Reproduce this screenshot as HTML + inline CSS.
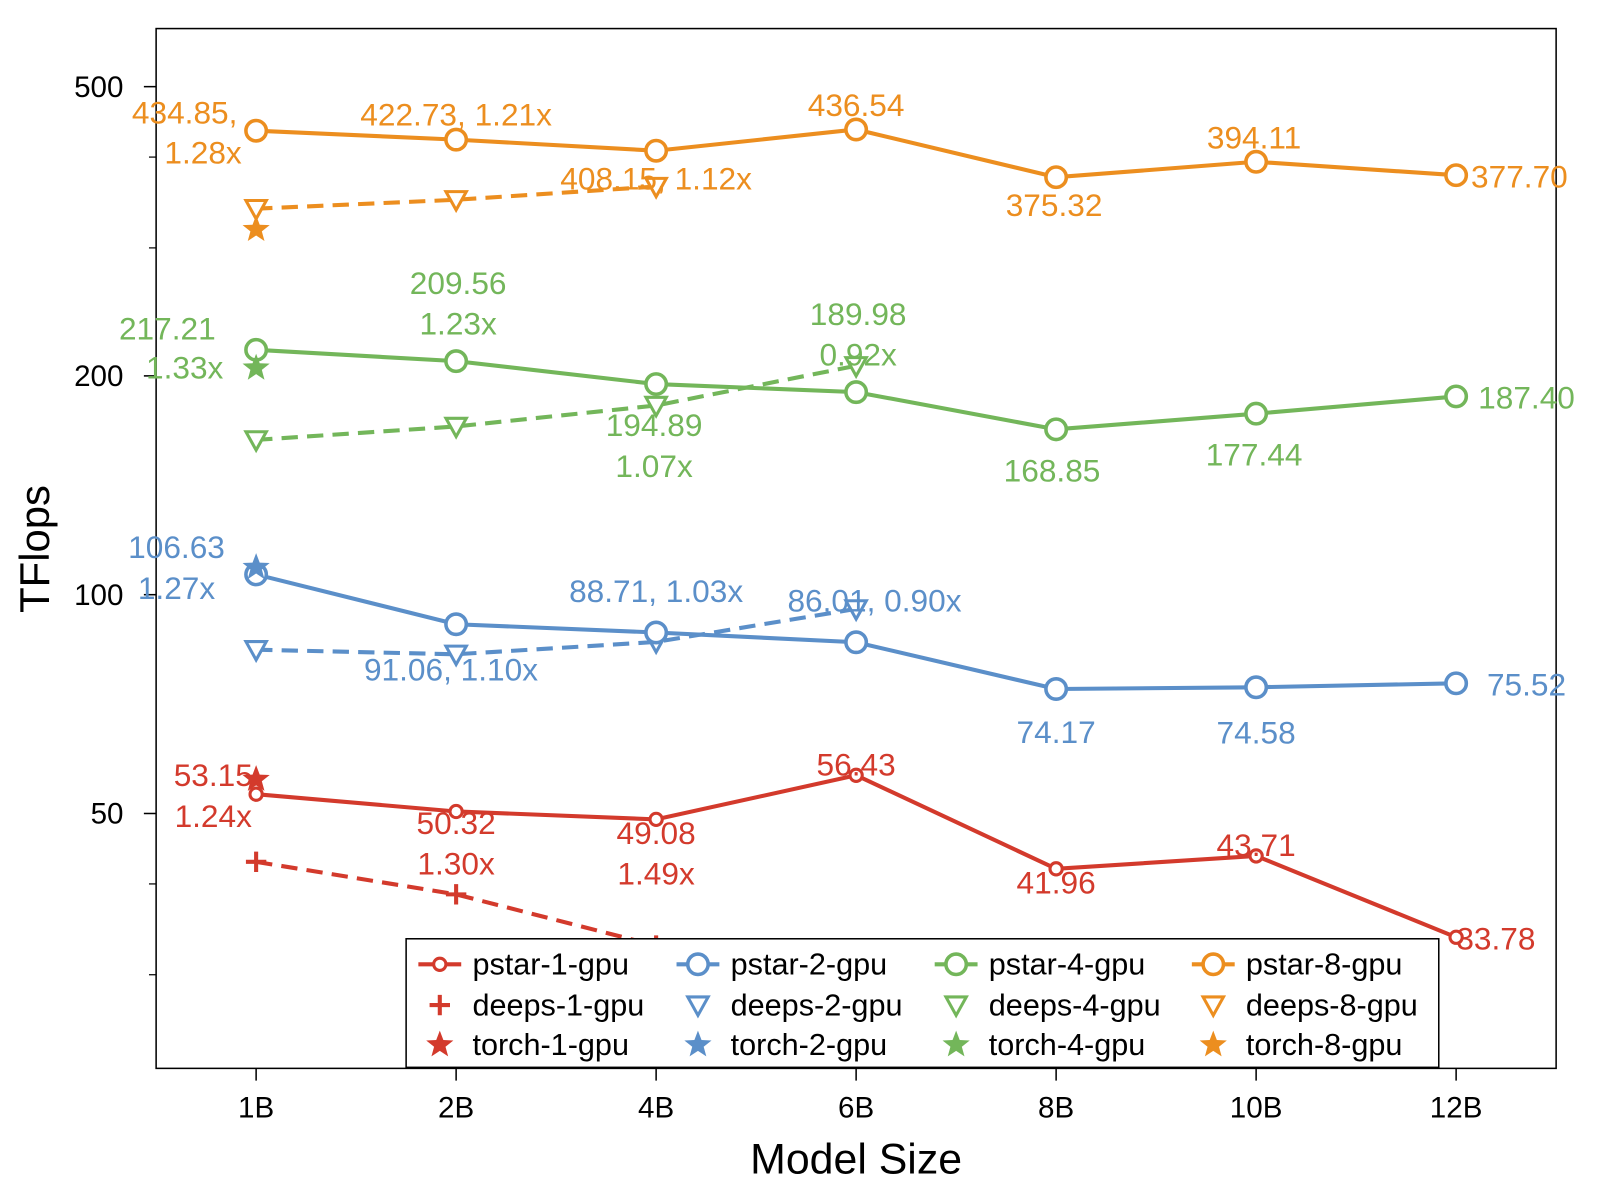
<!DOCTYPE html>
<html><head><meta charset="utf-8"><style>
html,body{margin:0;padding:0;background:#fff;}
svg{display:block;font-family:"Liberation Sans",Arial,sans-serif;}
</style></head><body>
<svg id="chart" width="1600" height="1200" viewBox="0 0 1568 1176" xmlns="http://www.w3.org/2000/svg">
<g id="plot"></g>
</svg>
<script>
const categories = ["1B","2B","4B","6B","8B","10B","12B"];
const pstar1 = [53.15,50.32,49.08,56.43,41.96,43.71,33.78];
const deeps1 = [42.9,38.7,32.9];
const torch1 = [55.7];
const pstar2 = [106.63,91.06,88.71,86.01,74.17,74.58,75.52];
const deeps2 = [84.0,82.8,86.1,95.6];
const torch2 = [109];
const pstar4 = [217.21,209.56,194.89,189.98,168.85,177.44,187.40];
const deeps4 = [163.3,170.4,182.1,206.5];
const torch4 = [205];
const pstar8 = [434.85,422.73,408.15,436.54,375.32,394.11,377.70];
const deeps8 = [339.7,349.4,364.4];
const torch8 = [318];
const yTicks = [50,100,200,500];
const yMinorTicks = [30,40,300,400];
// annotations: [category index, text, dx, dy offset from point, color key]
const annotations = [
 [0,"53.15",-42,-8,"r"],[0,"1.24x",-42,32,"r"],
 [1,"50.32",0,22,"r"],[1,"1.30x",0,62,"r"],
 [2,"49.08",0,24,"r"],[2,"1.49x",0,64,"r"],
 [3,"56.43",0,0,"r"],[4,"41.96",0,24,"r"],[5,"43.71",0,0,"r"],[6,"33.78",39,12,"r"],
 [0,"106.63",-78,-16,"b"],[0,"1.27x",-78,24,"b"],
 [1,"91.06, 1.10x",-5,55,"b"],[2,"88.71, 1.03x",0,-30,"b"],[3,"86.01, 0.90x",18,-30,"b"],
 [4,"74.17",0,53,"b"],[5,"74.58",0,55,"b"],[6,"75.52",69,12,"b"],
 [0,"217.21",-87,-10,"g"],[0,"1.33x",-70,28,"g"],
 [1,"209.56",2,-66,"g"],[1,"1.23x",2,-26,"g"],
 [3,"189.98",2,-66,"g"],[3,"0.92x",2,-26,"g"],
 [2,"194.89",-2,51,"g"],[2,"1.07x",-2,91,"g"],
 [4,"168.85",-4,51,"g"],[5,"177.44",-2,51,"g"],[6,"187.40",69,12,"g"],
 [0,"434.85,",-70,-7,"o"],[0,"1.28x",-52,32,"o"],
 [1,"422.73, 1.21x",0,-14,"o"],[2,"408.15, 1.12x",0,38,"o"],[3,"436.54",0,-13,"o"],
 [4,"375.32",-2,38,"o"],[5,"394.11",-2,-13,"o"],[6,"377.70",62,12,"o"]
];
const colors = {r:"#d33a2c",b:"#5b8fc9",g:"#73b65a",o:"#ec8e1f"};
const series = {r:pstar1,b:pstar2,g:pstar4,o:pstar8};

const NS="http://www.w3.org/2000/svg";
const L=153,R=1525,T=28,B=1047;
const yMin=22.3,yMax=601;
function x(i){return L+(i+0.5)*(R-L)/categories.length;}
function y(v){return B-(Math.log10(v)-Math.log10(yMin))/(Math.log10(yMax)-Math.log10(yMin))*(B-T);}
const g=document.getElementById('plot');
function el(tag,attrs,parent){const e=document.createElementNS(NS,tag);for(const k in attrs)e.setAttribute(k,attrs[k]);(parent||g).appendChild(e);return e;}

const frame=el('rect',{x:L,y:T,width:R-L,height:B-T,fill:"none",stroke:"#000","stroke-width":1.5});


yTicks.forEach(v=>{
 const t=el('line',{x1:L-12,x2:L,y1:y(v),y2:y(v),stroke:"#000","stroke-width":1.5});
 
 
 const lb=el('text',{x:L-32,y:y(v)+10,"text-anchor":"end","font-size":29});
 lb.textContent=v;
 
 
});
yMinorTicks.forEach(v=>{
 const t=el('line',{x1:L-7,x2:L,y1:y(v),y2:y(v),stroke:"#000","stroke-width":1.2});
 
 
});
categories.forEach((c,i)=>{
 const t=el('line',{x1:x(i),x2:x(i),y1:B,y2:B+12,stroke:"#000","stroke-width":1.5});
 
 
 const lb=el('text',{x:x(i),y:B+48,"text-anchor":"middle","font-size":29});
 lb.textContent=c;
 
 
});
const yt=el('text',{x:48,y:538,"text-anchor":"middle","font-size":41,transform:"rotate(-90 48 538)"});
yt.textContent="TFlops";


const xt=el('text',{x:839,y:1150,"text-anchor":"middle","font-size":42});
xt.textContent="Model Size";



function starPath(cx,cy,r){let d="";for(let k=0;k<10;k++){const rr=k%2?r*0.42:r;const a=-Math.PI/2+k*Math.PI/5;d+=(k?"L":"M")+(cx+rr*Math.cos(a)).toFixed(1)+","+(cy+rr*Math.sin(a)).toFixed(1);}return d+"Z";}
function marker(type,cx,cy,col,parent,small){
 let m;
 if(type==="circle") m=el('circle',{cx,cy,r:small?6:10,fill:"#fff",stroke:col,"stroke-width":small?3:3.5},parent);
 else if(type==="tri") m=el('path',{d:`M${cx-10},${cy-8}L${cx+10},${cy-8}L${cx},${cy+10}Z`,fill:"#fff",stroke:col,"stroke-width":3},parent);
 else if(type==="plus") m=el('path',{d:`M${cx-10},${cy}H${cx+10}M${cx},${cy-10}V${cy+10}`,stroke:col,"stroke-width":4},parent);
 else m=el('path',{d:starPath(cx,cy,14),fill:col},parent);
 return m;
}
function drawSeries(vals,col,dashed,type,name,small){
 const pts=vals.map((v,i)=>[x(i),y(v)]);
 const grp=el('g',{});
 
 
 if(pts.length>1){
  const ln=el('polyline',{points:pts.map(p=>p.join(",")).join(" "),fill:"none",stroke:col,"stroke-width":4,"stroke-dasharray":dashed?"16,9":"none"},grp);
  
  
 }
 pts.forEach(p=>{
  const m=marker(type,p[0],p[1],col,grp,small);
  
  
 });
}
drawSeries(deeps1,colors.r,true,"plus","deeps-1-gpu");
drawSeries(pstar1,colors.r,false,"circle","pstar-1-gpu",true);
drawSeries(torch1,colors.r,false,"star","torch-1-gpu");
drawSeries(deeps2,colors.b,true,"tri","deeps-2-gpu");
drawSeries(pstar2,colors.b,false,"circle","pstar-2-gpu");
drawSeries(torch2,colors.b,false,"star","torch-2-gpu");
drawSeries(deeps4,colors.g,true,"tri","deeps-4-gpu");
drawSeries(pstar4,colors.g,false,"circle","pstar-4-gpu");
drawSeries(torch4,colors.g,false,"star","torch-4-gpu");
drawSeries(deeps8,colors.o,true,"tri","deeps-8-gpu");
drawSeries(pstar8,colors.o,false,"circle","pstar-8-gpu");
drawSeries(torch8,colors.o,false,"star","torch-8-gpu");

annotations.forEach(a=>{
 const [i,txt,dx,dy,c]=a;
 const t=el('text',{x:x(i)+dx,y:y(series[c][i])+dy,"text-anchor":"middle","font-size":31,fill:colors[c]});
 t.textContent=txt;
 
 
});

const lg=el('g',{});


const lr=el('rect',{x:398,y:920,width:1012,height:126,fill:"#fff",stroke:"#000","stroke-width":1.5},lg);


const colX=[410,663,916,1168];
const rowY=[945,985,1024];
const legendKeys=["r","b","g","o"];
const gpus=["1","2","4","8"];
const rowNames=["pstar","deeps","torch"];
legendKeys.forEach((c,ci)=>{
 rowNames.forEach((rn,ri)=>{
  const ent=el('g',{},lg);
  
  
  const lx=colX[ci],ly=rowY[ri];
  if(ri===0){el('line',{x1:lx,x2:lx+42,y1:ly,y2:ly,stroke:colors[c],"stroke-width":4},ent);}
  const type=ri===0?"circle":ri===1?(c==="r"?"plus":"tri"):"star";
  marker(type,lx+21,ly,colors[c],ent,ri===0&&c==="r");
  const t=el('text',{x:lx+53,y:ly+10,"font-size":30},ent);
  t.textContent=rn+"-"+gpus[ci]+"-gpu";
 });
});
</script>
</body></html>
